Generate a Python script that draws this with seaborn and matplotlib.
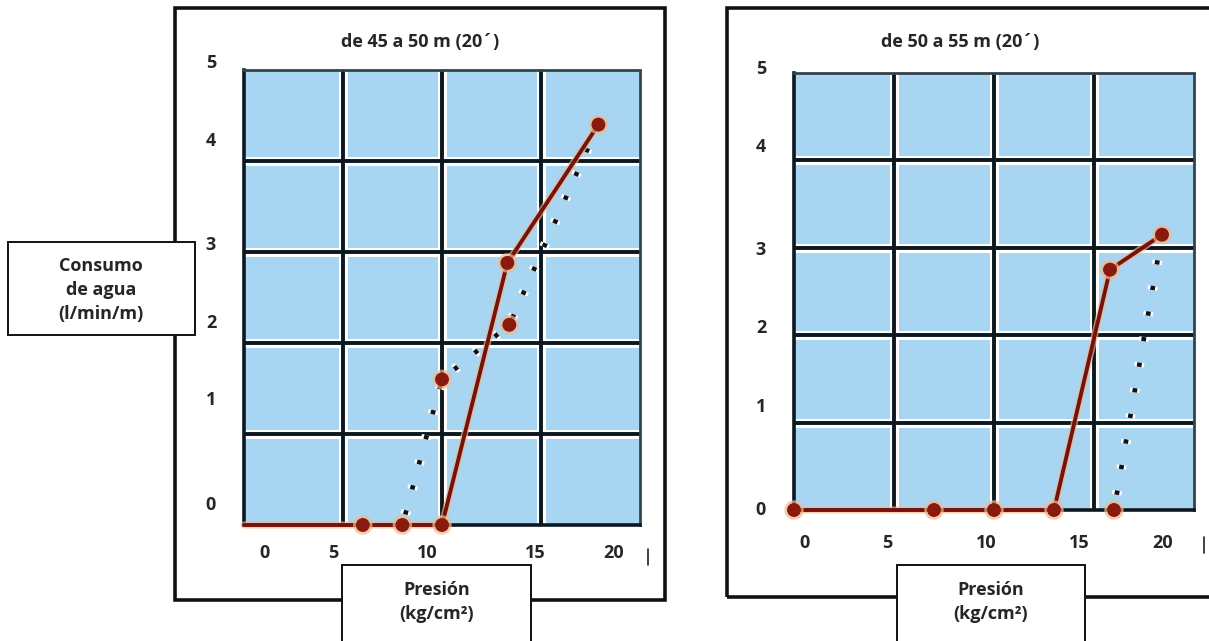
import matplotlib
matplotlib.use("Agg")
import matplotlib.pyplot as plt
import matplotlib.patheffects as pe
import matplotlib.transforms as mtransforms
from matplotlib.patches import Rectangle
from matplotlib.lines import Line2D
import seaborn as sns

# titles and axis text
titles = ["de 45 a 50 m (20´)", "de 50 a 55 m (20´)"]
y_label = "Consumo\nde agua\n(l/min/m)"
x_label = "Presión\n(kg/cm²)"

# grid / tick values
p_ticks = [0, 5, 10, 15, 20]
q_ticks = [0, 1, 2, 3, 4, 5]

# 45-50 m : loading branch (solid) and unloading branch (dotted)
load_p_45 = [0, 6, 8, 10, 13.3, 17.9]
load_q_45 = [0, 0, 0, 0, 2.88, 4.4]
unload_p_45 = [17.9, 13.4, 10, 8]
unload_q_45 = [4.4, 2.2, 1.6, 0]

# 50-55 m
load_p_50 = [0, 7, 10, 13, 15.8, 18.4]
load_q_50 = [0, 0, 0, 0, 2.75, 3.15]
unload_p_50 = [18.4, 16]
unload_q_50 = [3.15, 0]

W, H = 1209, 641
BLUE = "#a8d5f2"
GRID = "#0b1820"
RED = "#74120e"
MARK = "#8a1a0f"
GLOW = "#f0b98c"
FS = 13


def fig_rect(x0, y0, x1, y1):
    # pixel box (top-left origin) -> figure fraction rect
    return [x0 / W, 1 - y1 / H, (x1 - x0) / W, (y1 - y0) / H]


def px_text(fig, x, y, s, **kw):
    fig.text(x / W, 1 - y / H, s, ha="center", va="center",
             fontsize=FS, fontweight="bold", **kw)


def draw_panel(ax, load_p, load_q, unload_p, unload_q,
               load_marks, unload_marks, x_nudge, y_nudge, x_drop):
    ax.set_facecolor(BLUE)
    ax.set_xlim(0, 20)
    ax.set_ylim(0, 5)
    ax.set_xticks(p_ticks)
    ax.set_yticks(q_ticks)
    ax.tick_params(length=0, labelbottom=False, labelleft=False)

    # heavy grid with white rim
    for x in p_ticks[1:-1]:
        ax.axvline(x, color="white", lw=6.5, zorder=1)
        ax.axvline(x, color=GRID, lw=2.8, zorder=2)
    for y in q_ticks[1:-1]:
        ax.axhline(y, color="white", lw=6.5, zorder=1)
        ax.axhline(y, color=GRID, lw=2.8, zorder=2)

    for side in ["left", "bottom"]:
        ax.spines[side].set_color(GRID)
        ax.spines[side].set_linewidth(2.6)
    for side in ["top", "right"]:
        ax.spines[side].set_color("#33434d")
        ax.spines[side].set_linewidth(2)
        ax.spines[side].set_linestyle((0, (1, 1)))

    glow = [pe.Stroke(linewidth=5, foreground=GLOW, alpha=0.7), pe.Normal()]

    # unloading branch, dotted
    sns.lineplot(x=unload_p, y=unload_q, ax=ax, sort=False, estimator=None,
                 color="#111111", lw=3.4, linestyle=(0, (0.9, 4.6)),
                 clip_on=False, zorder=4,
                 path_effects=[pe.Stroke(linewidth=7, foreground="white"),
                               pe.Normal()])
    sns.lineplot(x=unload_p, y=unload_q, ax=ax, sort=False, estimator=None,
                 linestyle="none", marker="o", markersize=9,
                 markevery=unload_marks, markerfacecolor=MARK,
                 markeredgecolor=MARK, markeredgewidth=1.0,
                 clip_on=False, zorder=5, path_effects=glow)

    # loading branch, solid
    sns.lineplot(x=load_p, y=load_q, ax=ax, sort=False, estimator=None,
                 color=RED, lw=2.8, marker="o", markersize=9,
                 markevery=load_marks, markerfacecolor=MARK,
                 markeredgecolor=MARK, markeredgewidth=1.0,
                 clip_on=False, zorder=6, path_effects=glow)

    ax.set_xlabel("")
    ax.set_ylabel("")

    # tick labels, nudged like the scanned original
    for v, dx in zip(p_ticks, x_nudge):
        tr = mtransforms.offset_copy(ax.get_xaxis_transform(), fig=ax.figure,
                                     x=dx, y=-x_drop, units="dots")
        ax.text(v, 0, str(v), transform=tr, ha="center", va="center",
                fontsize=FS, fontweight="bold")
    for v, dy in zip(q_ticks, y_nudge):
        tr = mtransforms.offset_copy(ax.get_yaxis_transform(), fig=ax.figure,
                                     x=-33, y=dy, units="dots")
        ax.text(0, v, str(v), transform=tr, ha="center", va="center",
                fontsize=FS, fontweight="bold")


def main():
    sns.set_theme(style="white")
    plt.rcParams["font.family"] = ["Open Sans", "DejaVu Sans"]
    plt.rcParams["font.weight"] = "bold"

    fig = plt.figure(figsize=(W / 100, H / 100), dpi=100)
    fig.patch.set_facecolor("white")

    # outer frames
    for box in [(175, 8, 665, 600), (727, 8, 1220, 597)]:
        r = fig_rect(*box)
        fig.add_artist(Rectangle(r[:2], r[2], r[3],
                                 transform=fig.transFigure, fill=False,
                                 edgecolor="#111111", lw=2.6, zorder=1))

    ax1 = fig.add_axes(fig_rect(244, 70, 640, 525))
    ax2 = fig.add_axes(fig_rect(794, 73, 1194, 510))

    draw_panel(ax1, load_p_45, load_q_45, unload_p_45, unload_q_45,
               load_marks=[1, 2, 3, 4, 5], unload_marks=[1, 2],
               x_nudge=[20, -10, -15, -6, -26],
               y_nudge=[20, 34, 20, 7, 20, 7], x_drop=28)
    draw_panel(ax2, load_p_50, load_q_50, unload_p_50, unload_q_50,
               load_marks=[0, 1, 2, 3, 4, 5], unload_marks=[1],
               x_nudge=[10, -7, -8, -15, -31],
               y_nudge=[0, 16, 7, -2, 13, 4], x_drop=33)

    px_text(fig, 420, 42, titles[0])
    px_text(fig, 960, 42, titles[1])

    # label boxes
    for box, cx in [((342, 565, 531, 650), 437), ((897, 565, 1085, 650), 991)]:
        r = fig_rect(*box)
        fig.add_artist(Rectangle(r[:2], r[2], r[3],
                                 transform=fig.transFigure, facecolor="white",
                                 edgecolor="#111111", lw=1.4, zorder=3))
        px_text(fig, cx, 602, x_label, linespacing=1.4, zorder=4)

    r = fig_rect(8, 242, 195, 335)
    fig.add_artist(Rectangle(r[:2], r[2], r[3],
                             transform=fig.transFigure, facecolor="white",
                             edgecolor="#111111", lw=1.4, zorder=3))
    px_text(fig, 101, 290, y_label, linespacing=1.4, zorder=4)

    # small stray tick marks right of the x labels
    for x, y in [(648, 557), (1204, 545)]:
        fig.add_artist(Line2D([x / W, x / W], [1 - (y - 8) / H, 1 - (y + 8) / H],
                              transform=fig.transFigure, color="#222222", lw=1.2))

    fig.savefig("out.png", dpi=100)


if __name__ == "__main__":
    main()
